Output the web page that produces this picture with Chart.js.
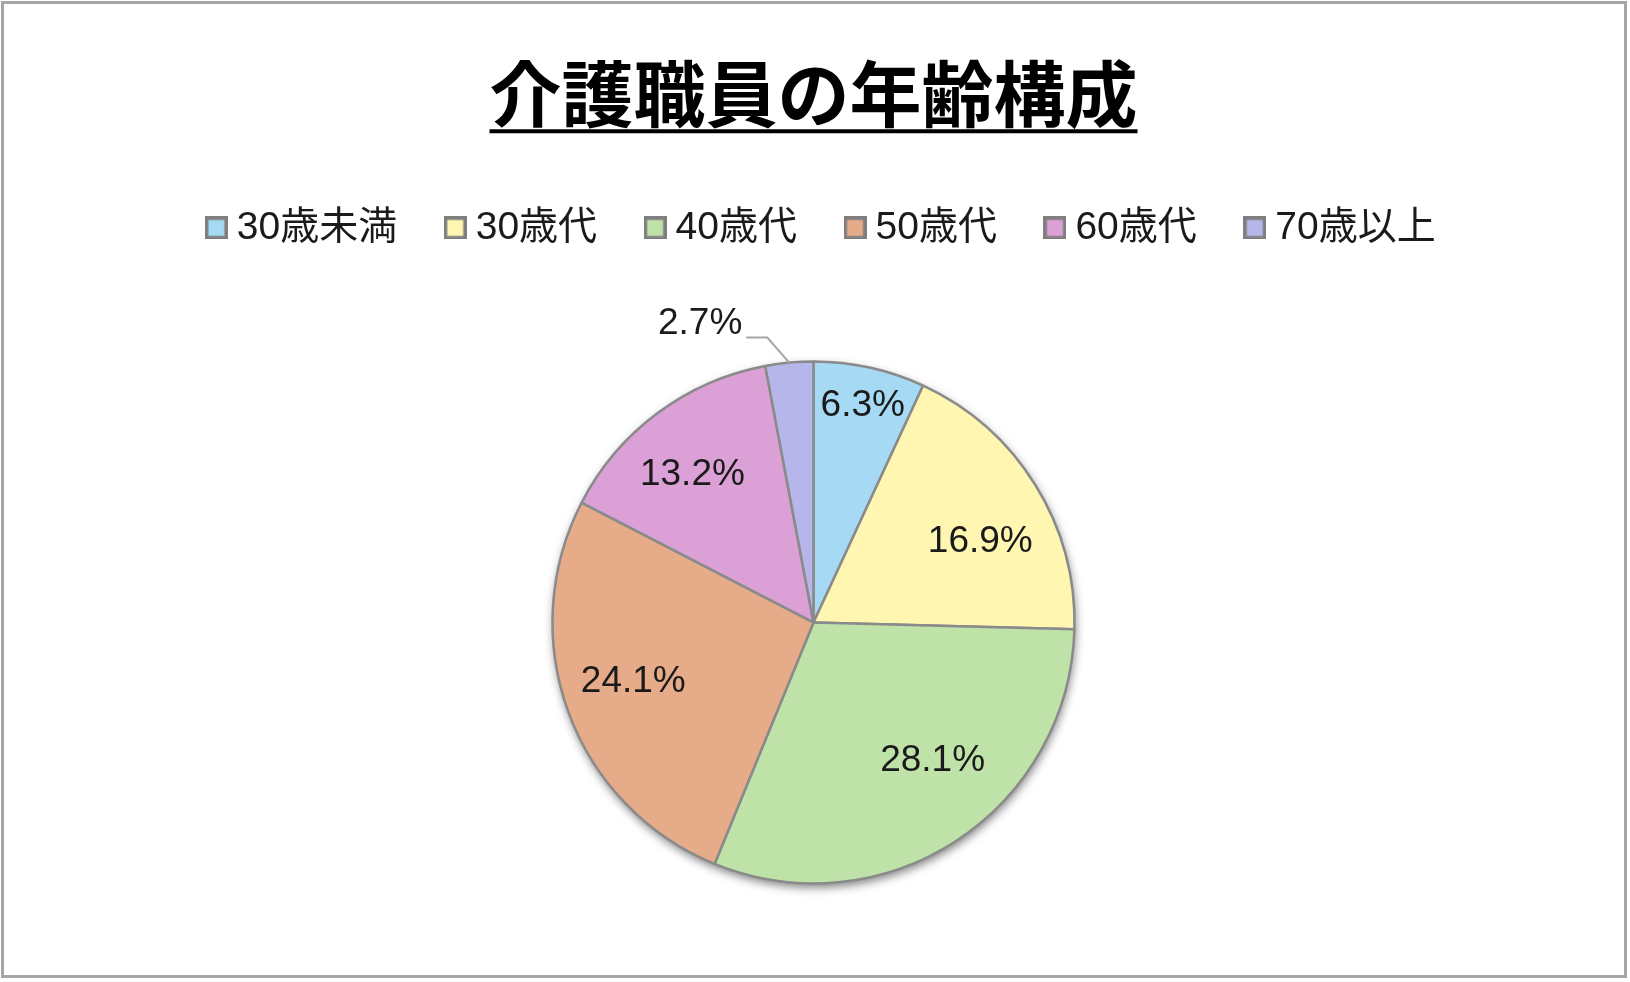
<!DOCTYPE html>
<html lang="ja">
<head>
<meta charset="utf-8">
<title>介護職員の年齢構成</title>
<script src="https://cdn.jsdelivr.net/npm/chart.js@4.4.1/dist/chart.umd.min.js"></script>
<style>
  html, body { margin: 0; padding: 0; background: #fff; }
  #wrap { position: relative; width: 1630px; height: 982px; }
  #frame {
    position: absolute; left: 1px; top: 1px; width: 1626px; height: 977px;
    box-sizing: border-box; border: 3px solid #a6a6a6; pointer-events: none;
  }
  #ageChart { position: absolute; left: 0; top: 0; }
</style>
</head>
<body>
<div id="wrap">
  <canvas id="ageChart" width="1630" height="982"></canvas>
  <div id="frame"></div>
</div>
<script>
// data
const chartTitle = '介護職員の年齢構成';
const categories = ['30歳未満', '30歳代', '40歳代', '50歳代', '60歳代', '70歳以上'];
const shares = [6.3, 16.9, 28.1, 24.1, 13.2, 2.7];
const sliceColors = ['#A6D9F3', '#FEF6B1', '#BFE2A9', '#E6AB88', '#DBA1D7', '#B7B6EA'];

const FONT = '"Liberation Sans", "Noto Sans CJK JP", sans-serif';
const titlePad = { top: 50, bottom: 15 };
const legendShift = 12;

// label placement (Excel "best fit"-like): fraction of radius + angle nudge in degrees
// null = outside with a leader line
const labelRadius = [0.85, 0.71, 0.698, 0.727, 0.733, null];
const labelTurn = [0.4, 6, -7.7, 2, -2.6, 0];
const leader = { elbow: [-22, -25], tail: 21 };

// legend swatches: a bordered square drawn as an image so it can sit close to its text
function swatch(color) {
    const c = document.createElement('canvas');
    c.width = 23;
    c.height = 23;
    const g = c.getContext('2d');
    g.fillStyle = color;
    g.fillRect(2, 2, 19, 19);
    g.strokeStyle = '#7f7f7f';
    g.lineWidth = 3.5;
    g.strokeRect(1.75, 1.75, 19.5, 19.5);
    return c;
}
const swatches = sliceColors.map(swatch);

// push the pie down below the legend, nudge legend to the right
const legendTweak = {
    id: 'legendTweak',
    beforeInit(chart) {
        const legend = chart.legend;
        const fit = legend.fit;
        legend.fit = function () {
            fit.call(this);
            this.height += 104.5;
        };
        const draw = legend.draw;
        legend.draw = function () {
            this.ctx.save();
            this.ctx.translate(legendShift, 0);
            draw.call(this);
            this.ctx.restore();
        };
    }
};

const pieShadow = {
    id: 'pieShadow',
    beforeDatasetsDraw(chart) {
        const arc = chart.getDatasetMeta(0).data[0];
        if (!arc) return;
        const ctx = chart.ctx;
        ctx.save();
        ctx.shadowColor = 'rgba(0, 0, 0, 0.5)';
        ctx.shadowBlur = 10;
        ctx.shadowOffsetX = 1;
        ctx.shadowOffsetY = 4;
        ctx.fillStyle = '#fff';
        ctx.beginPath();
        ctx.arc(arc.x, arc.y, arc.outerRadius, 0, Math.PI * 2);
        ctx.fill();
        ctx.restore();
    }
};

const sliceLabels = {
    id: 'sliceLabels',
    afterDatasetsDraw(chart) {
        const ctx = chart.ctx;
        const meta = chart.getDatasetMeta(0);
        const values = chart.data.datasets[0].data;
        ctx.save();
        ctx.font = '37px ' + FONT;
        ctx.fillStyle = '#1a1a1a';
        ctx.textBaseline = 'middle';
        meta.data.forEach((arc, i) => {
            const { x, y, startAngle, endAngle, outerRadius } =
                arc.getProps(['x', 'y', 'startAngle', 'endAngle', 'outerRadius'], true);
            const mid = (startAngle + endAngle) / 2;
            const text = values[i].toFixed(1) + '%';
            if (labelRadius[i]) {
                const r = outerRadius * labelRadius[i];
                const a = mid + labelTurn[i] * Math.PI / 180;
                ctx.textAlign = 'center';
                ctx.fillText(text, x + Math.cos(a) * r, y + Math.sin(a) * r);
            } else {
                const ex = x + Math.cos(mid) * outerRadius;
                const ey = y + Math.sin(mid) * outerRadius;
                const bx = ex + leader.elbow[0];
                const by = ey + leader.elbow[1];
                const tx = bx - leader.tail;
                ctx.strokeStyle = '#a6a6a6';
                ctx.lineWidth = 2;
                ctx.beginPath();
                ctx.moveTo(ex, ey);
                ctx.lineTo(bx, by);
                ctx.lineTo(tx, by);
                ctx.stroke();
                ctx.textAlign = 'right';
                ctx.fillText(text, tx - 4, by - 14);
            }
        });
        ctx.restore();
    }
};

const titleUnderline = {
    id: 'titleUnderline',
    afterDraw(chart) {
        const tb = chart.titleBlock;
        const font = Chart.helpers.toFont(chart.options.plugins.title.font);
        const ctx = chart.ctx;
        ctx.save();
        ctx.font = font.string;
        const w = ctx.measureText(chartTitle).width;
        const cx = (tb.left + tb.right) / 2;
        const cy = tb.top + titlePad.top + font.lineHeight / 2;
        ctx.strokeStyle = '#000';
        ctx.lineWidth = 4;
        ctx.beginPath();
        ctx.moveTo(cx - w / 2, cy + 38);
        ctx.lineTo(cx + w / 2, cy + 38);
        ctx.stroke();
        ctx.restore();
    }
};

const ctx = document.getElementById('ageChart').getContext('2d');
new Chart(ctx, {
    type: 'pie',
    data: {
        labels: categories,
        datasets: [{
            data: shares,
            backgroundColor: sliceColors,
            borderColor: '#8a8a8a',
            borderWidth: 2.5
        }]
    },
    options: {
        responsive: false,
        animation: false,
        events: [],
        radius: 261,
        layout: { padding: { left: 0, right: 3, top: 0, bottom: 99 } },
        plugins: {
            title: {
                display: true,
                text: chartTitle,
                color: '#000',
                font: { family: '"Noto Sans CJK JP", sans-serif', size: 72, weight: 'bold' },
                padding: titlePad
            },
            legend: {
                position: 'top',
                labels: {
                    color: '#1a1a1a',
                    font: { family: FONT, size: 39 },
                    usePointStyle: true,
                    boxWidth: 2,
                    boxHeight: 2,
                    padding: 57,
                    generateLabels(chart) {
                        const items = Chart.overrides.doughnut.plugins.legend.labels.generateLabels(chart);
                        items.forEach((it, i) => {
                            it.pointStyle = swatches[i];
                        });
                        return items;
                    }
                }
            },
            tooltip: { enabled: false }
        }
    },
    plugins: [legendTweak, pieShadow, sliceLabels, titleUnderline]
});
</script>
</body>
</html>
